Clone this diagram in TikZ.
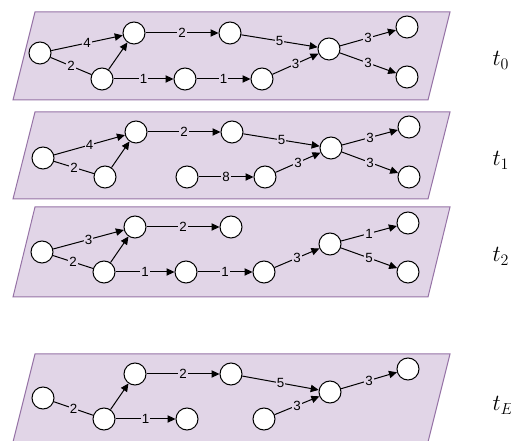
\documentclass[tikz,border=0pt]{standalone}
\usepackage{fontspec}
\setsansfont{Liberation Sans}
\usetikzlibrary{arrows.meta}
\definecolor{lav}{RGB}{225,213,231}
\definecolor{lavline}{RGB}{150,115,166}

\tikzset{
  stnode/.style={circle, draw=black, fill=white, line width=0.75pt, minimum size=16.5pt, inner sep=0pt},
  layer/.style={draw=lavline, fill=lav, line width=0.75pt},
  wt/.style={midway, fill=lav, inner sep=0.6pt, font=\sffamily\fontsize{10}{10}\selectfont},
  go/.style={-{Triangle[length=6pt,width=5.5pt]}},
  tlabel/.style={anchor=base west, inner sep=0pt, font=\fontsize{17}{17}\selectfont},
}

\begin{document}
\begin{tikzpicture}[x=0.75pt, y=-0.75pt, line width=0.75pt]
  \useasboundingbox (0,0) rectangle (511,441);

  % layers
  \foreach \top/\bot in {12/100, 112/199, 207/297, 354/442}
    \draw[layer] (35,\top) -- (450,\top) -- (428,\bot) -- (13,\bot) -- cycle;

  \node[tlabel] at (492,66) {$t_0$};
  \node[tlabel] at (492,166) {$t_1$};
  \node[tlabel] at (492,262) {$t_2$};
  \node[tlabel] at (492,411) {$t_E$};

  % t0
  \node[stnode] (a0) at (40,53) {};
  \node[stnode] (b0) at (102,79) {};
  \node[stnode] (c0) at (134,33) {};
  \node[stnode] (d0) at (230,33) {};
  \node[stnode] (e0) at (185,79) {};
  \node[stnode] (f0) at (262,79) {};
  \node[stnode] (g0) at (329,49) {};
  \node[stnode] (h0) at (407,27) {};
  \node[stnode] (i0) at (407,77) {};
  \draw[go] (a0) -- node[wt] {4} (c0);
  \draw (a0) -- node[wt] {2} (b0);
  \draw[go] (b0) -- (c0);
  \draw[go] (c0) -- node[wt] {2} (d0);
  \draw[go] (b0) -- node[wt] {1} (e0);
  \draw[go] (e0) -- node[wt] {1} (f0);
  \draw[go] (d0) -- node[wt] {5} (g0);
  \draw[go] (f0) -- node[wt] {3} (g0);
  \draw[go] (g0) -- node[wt] {3} (h0);
  \draw[go] (g0) -- node[wt] {3} (i0);

  % t1
  \node[stnode] (a1) at (43,158) {};
  \node[stnode] (b1) at (105,177) {};
  \node[stnode] (c1) at (136,132) {};
  \node[stnode] (d1) at (232,132) {};
  \node[stnode] (e1) at (187,177) {};
  \node[stnode] (f1) at (265,177) {};
  \node[stnode] (g1) at (331,148) {};
  \node[stnode] (h1) at (409,127) {};
  \node[stnode] (i1) at (409,177) {};
  \draw[go] (a1) -- node[wt] {4} (c1);
  \draw (a1) -- node[wt] {2} (b1);
  \draw[go] (b1) -- (c1);
  \draw[go] (c1) -- node[wt] {2} (d1);
  \draw[go] (e1) -- node[wt] {8} (f1);
  \draw[go] (d1) -- node[wt] {5} (g1);
  \draw[go] (f1) -- node[wt] {3} (g1);
  \draw[go] (g1) -- node[wt] {3} (h1);
  \draw[go] (g1) -- node[wt] {3} (i1);

  % t2
  \node[stnode] (a2) at (42,252) {};
  \node[stnode] (b2) at (104,272) {};
  \node[stnode] (c2) at (135,227) {};
  \node[stnode] (d2) at (231,227) {};
  \node[stnode] (e2) at (186,272) {};
  \node[stnode] (f2) at (264,272) {};
  \node[stnode] (g2) at (330,244) {};
  \node[stnode] (h2) at (408,223) {};
  \node[stnode] (i2) at (408,272) {};
  \draw[go] (a2) -- node[wt] {3} (c2);
  \draw (a2) -- node[wt] {2} (b2);
  \draw[go] (b2) -- (c2);
  \draw[go] (c2) -- node[wt] {2} (d2);
  \draw[go] (b2) -- node[wt] {1} (e2);
  \draw[go] (e2) -- node[wt] {1} (f2);
  \draw[go] (f2) -- node[wt] {3} (g2);
  \draw[go] (g2) -- node[wt] {1} (h2);
  \draw[go] (g2) -- node[wt] {5} (i2);

  % tE
  \node[stnode] (a3) at (43,398) {};
  \node[stnode] (b3) at (104,419) {};
  \node[stnode] (c3) at (135,374) {};
  \node[stnode] (d3) at (231,374) {};
  \node[stnode] (e3) at (187,419) {};
  \node[stnode] (f3) at (264,419) {};
  \node[stnode] (g3) at (330,392) {};
  \node[stnode] (h3) at (408,369) {};
  \draw (a3) -- node[wt] {2} (b3);
  \draw[go] (b3) -- (c3);
  \draw[go] (c3) -- node[wt] {2} (d3);
  \draw[go] (b3) -- node[wt] {1} (e3);
  \draw[go] (d3) -- node[wt] {5} (g3);
  \draw[go] (f3) -- node[wt] {3} (g3);
  \draw[go] (g3) -- node[wt] {3} (h3);
\end{tikzpicture}
\end{document}
